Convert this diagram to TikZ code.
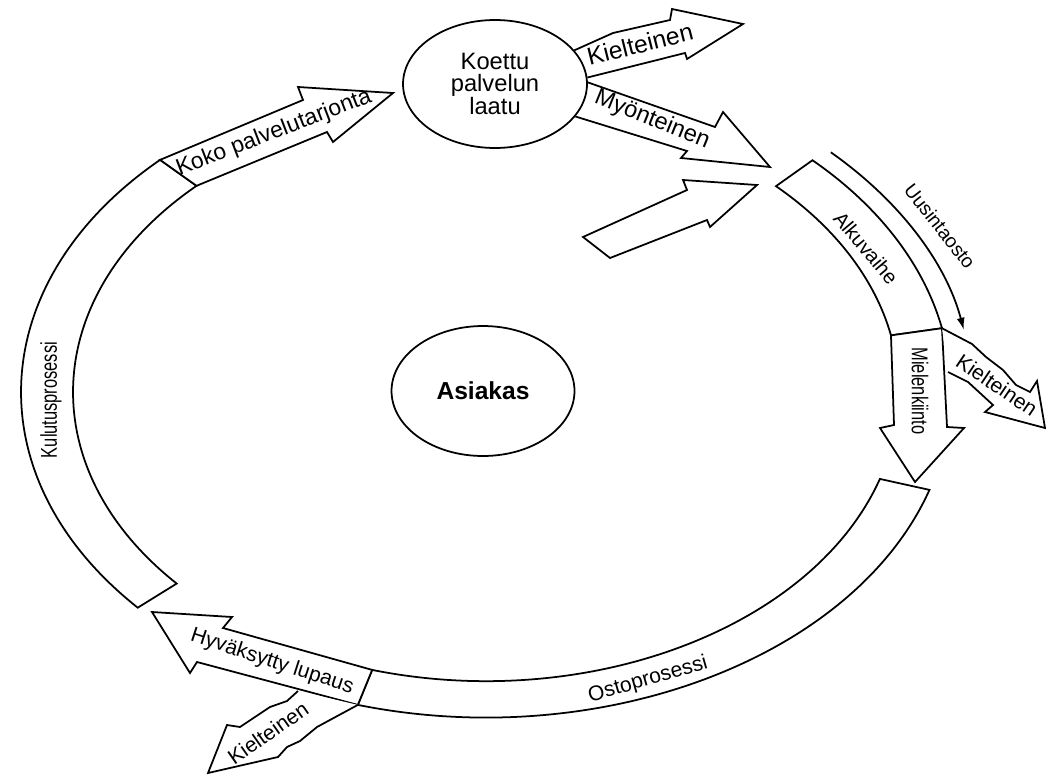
\documentclass[tikz,border=0pt]{standalone}
\usepackage{fontspec}
\setmainfont{Liberation Sans}
\newfontfamily\narrowfont{Liberation Sans}[FakeStretch=0.72]
\usetikzlibrary{shapes.geometric,arrows.meta}

\begin{document}
\begin{tikzpicture}[x=0.02cm,y=-0.02cm,line width=1pt,
  band/.style={draw,fill=white},
  lbl/.style={inner sep=0pt,font=\fontsize{12}{12}\selectfont},
  oval/.style={ellipse,draw,fill=white,minimum width=3.68cm,minimum height=2.56cm,align=center}]
\useasboundingbox (0,0) rectangle (1050,774);
\begin{scope}[shift={(486,392)},yscale=0.7]
\draw[band] (106:465) coordinate (os1) arc[start angle=106,end angle=17.5,radius=465]
  -- (17.5:413) arc[start angle=17.5,end angle=106,radius=413] coordinate (os2) -- cycle;
\draw[band] (138.5:465) arc[start angle=138.5,end angle=225.5,radius=465] coordinate (ku1)
  -- (225.5:413) coordinate (ku2) arc[start angle=225.5,end angle=138.5,radius=413] -- cycle;
\draw[band] (-45.4:465) arc[start angle=-45.4,end angle=-11.3,radius=465] coordinate (al2)
  -- (-11.3:413) coordinate (al3) arc[start angle=-11.3,end angle=-45.4,radius=413] -- cycle;
\draw[-{Latex[length=7pt,width=4.5pt]}] (-44.8:486) arc[start angle=-44.8,end angle=-10.5,radius=486];
\end{scope}
\draw[band] (al3) -- (894,425) -- (880,428) -- (915,482) -- (964,428) -- (947,427) -- (al2) -- cycle;
\draw[band] (al2) -- (972,344) -- (986,357) -- (1003,370) -- (1016,385) -- (1030,392) -- (1037,381)
  -- (1045,428) -- (985,412) -- (993,405) -- (968,382) -- (948,372);
\draw[band] (os2) -- (223,628) -- (232,617) -- (152,612) -- (190,673) -- (197,662) -- (os1) -- cycle;
\draw[band] (os1) -- (317,727) -- (300,741) -- (287,747) -- (278,757) -- (208,773) -- (227,725)
  -- (240,727) -- (270,707) -- (287,701) -- (298,691);
\draw[band] (ku1) -- (303,100) -- (298,87) -- (393,93) -- (333,142) -- (327,132) -- (ku2) -- cycle;
\draw[band] (583,237) -- (687,190) -- (683,180) -- (757,185) -- (710,227) -- (707,220) -- (610,258) -- cycle;

\node[oval,font=\fontsize{13.5}{12.4}\selectfont] (laatu) at (495,84) {Koettu\\palvelun\\laatu};
\node[oval,minimum width=3.66cm,minimum height=2.6cm,font=\bfseries\fontsize{14}{14}\selectfont] (asiakas) at (483,391) {Asiakas};
\draw (laatu.23) -- (613,33) -- (670,20) -- (672,9) -- (743,24) -- (687,59) -- (685,53) -- (laatu.4);
\draw (laatu.1) -- (715,127) -- (723,112) -- (770,167) -- (681,158) -- (687,151) -- (laatu.-22);

\node[lbl,rotate=90,font=\narrowfont\fontsize{13}{13}\selectfont] (kulutus) at (51,400) {Kulutusprosessi};
\node[lbl,rotate=21,font=\fontsize{13}{13}\selectfont] (koko) at (274,133) {Koko palvelutarjonta};
\node[lbl,rotate=14,font=\fontsize{14}{14}\selectfont] (kiel1) at (640,44) {Kielteinen};
\node[lbl,rotate=-22,font=\fontsize{13.4}{13}\selectfont] (myon) at (652,120) {Myönteinen};
\node[lbl,rotate=-50,font=\fontsize{11.5}{12}\selectfont] (alku) at (866,248) {Alkuvaihe};
\node[lbl,rotate=-52,font=\fontsize{11}{12}\selectfont] (uusinta) at (940,226) {Uusintaosto};
\node[lbl,rotate=-90,font=\narrowfont\fontsize{13}{13}\selectfont] (mielen) at (920,391) {Mielenkiinto};
\node[lbl,rotate=-34] (kiel2) at (997,385) {Kielteinen};
\node[lbl,rotate=16] (osto) at (648,680) {Ostoprosessi};
\node[lbl,rotate=-18] (lupaus) at (272,662) {Hyväksytty lupaus};
\node[lbl,rotate=35] (kiel3) at (268,733) {Kielteinen};
\end{tikzpicture}
\end{document}
